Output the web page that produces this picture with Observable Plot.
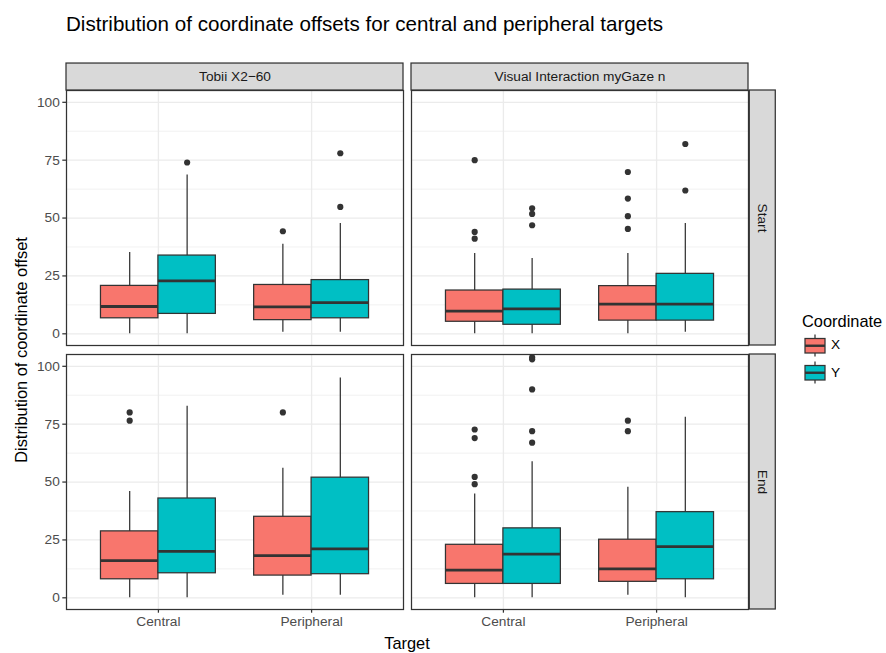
<!DOCTYPE html>
<html>
<head>
<meta charset="utf-8">
<script src="https://cdn.jsdelivr.net/npm/d3@7"></script>
<script src="https://cdn.jsdelivr.net/npm/@observablehq/plot@0.6"></script>
<style>
  html, body { margin: 0; padding: 0; background: #fff; }
  #wrap { position: relative; width: 886px; height: 653px; font-family: "Liberation Sans", Arial, Helvetica, sans-serif; color: #000; overflow: hidden; }
  #wrap svg { position: absolute; left: 0; top: 0; }
  .lbl { position: absolute; white-space: nowrap; line-height: 1; }
</style>
</head>
<body>
<div id="wrap"></div>
<script>
// ---------------- data ----------------
const devices = ["Tobii X2\u221260", "Visual Interaction myGaze n"];
const phases = ["Start", "End"];
const targets = ["Central", "Peripheral"];
const coords = ["X", "Y"];
const yTicks = [0, 25, 50, 75, 100];

// order: device > phase > target > coordinate
const whiskerLow  = [0, 0, 0.7, 0.7,   0, 0, 1.1, 1.1,    0, 0, 0, 0.7,   0, 0, 1.1, 0];
const q1          = [6.7, 8.6, 5.9, 6.7,   8.0, 10.6, 9.6, 10.2,   5.2, 3.9, 5.7, 5.7,   6.0, 6.0, 6.9, 8.0];
const median      = [11.8, 22.9, 11.6, 13.5,   16.1, 20.1, 18.2, 21.1,   9.8, 10.8, 12.8, 12.8,   12.0, 18.9, 12.5, 22.1];
const q3          = [20.7, 33.8, 21.1, 23.2,   28.7, 42.9, 35.0, 51.9,   18.7, 19.1, 20.6, 25.9,   22.9, 30.0, 25.1, 37.0];
const whiskerHigh = [35.1, 68.6, 38.7, 47.6,   45.9, 82.8, 56.0, 95.0,   34.7, 32.5, 34.7, 47.6,   44.8, 58.8, 47.8, 78.0];
const outliers = [
  [], [74.0], [44.3], [54.8, 78.0],
  [76.5, 80.1], [], [80.1], [],
  [41.1, 44.0, 75.0], [46.9, 51.8, 54.2], [45.3, 50.8, 58.4, 69.9], [61.9, 82.0],
  [49.1, 52.2, 69.0, 72.7], [67.0, 72.0, 90.0, 103.0, 103.9], [72.0, 76.5], []
];
const fillColors = ["#F8766D", "#00BFC4"];

// ---------------- build tables ----------------
const half = 0.1875; // half box width (dodge 0.75 / 2 boxes / 2)
const rows = [];
const outRows = [];
let i = 0;
for (const device of devices) for (const phase of phases) for (const target of targets) for (const coord of coords) {
  const pos = targets.indexOf(target) + 1 + (coord === "X" ? -half : half);
  rows.push({device, phase, target, coord, pos, lo: whiskerLow[i], q1: q1[i], med: median[i], q3: q3[i], hi: whiskerHigh[i]});
  for (const v of outliers[i]) outRows.push({device, phase, coord, pos, value: v});
  i++;
}

const ink = "#333333";
const grid = "#EBEBEB";
const lw = 1.25;
const fs = 13.7;
const yDom = [-5.05, 105.1];
const xDom = [0.4, 2.6];
const stripTop = 105.1 + 27 / 2.318;
const rsX1 = 2.6 + 1.3 / 153.3, rsX2 = rsX1 + 26 / 153.3;

const topStrips = devices.map(d => ({device: d, phase: "Start", label: d}));
const sideStrips = phases.map(p => ({device: devices[1], phase: p, label: p}));

const chart = Plot.plot({
  width: 886,
  height: 653,
  marginLeft: 65.5,
  marginRight: 138,
  marginTop: 90,
  marginBottom: 43,
  style: {fontFamily: "'Liberation Sans', Arial, Helvetica, sans-serif", fontSize: fs + "px", background: "transparent", overflow: "visible"},
  fx: {domain: devices, axis: null, paddingInner: 0.02317, paddingOuter: 0},
  fy: {domain: phases, axis: null, paddingInner: 0.03403, paddingOuter: 0},
  x: {domain: xDom, axis: null},
  y: {domain: yDom, axis: null},
  color: {domain: coords, range: fillColors},
  marks: [
    Plot.frame({fill: "white"}),
    Plot.ruleY([12.5, 37.5, 62.5, 87.5], {stroke: grid, strokeWidth: 0.7}),
    Plot.ruleY(yTicks, {stroke: grid, strokeWidth: 1.3}),
    Plot.ruleX([1, 2], {stroke: grid, strokeWidth: 1.3}),
    Plot.ruleX(rows, {fx: "device", fy: "phase", x: "pos", y1: "lo", y2: "hi", stroke: ink, strokeWidth: lw}),
    Plot.rect(rows, {fx: "device", fy: "phase", x1: d => d.pos - half, x2: d => d.pos + half, y1: "q1", y2: "q3", fill: "coord", stroke: ink, strokeWidth: lw}),
    Plot.ruleY(rows, {fx: "device", fy: "phase", y: "med", x1: d => d.pos - half, x2: d => d.pos + half, stroke: ink, strokeWidth: 2.8}),
    Plot.dot(outRows, {fx: "device", fy: "phase", x: "pos", y: "value", r: 3.1, fill: ink, stroke: "none"}),
    Plot.frame({stroke: ink, strokeWidth: lw}),
    // strips
    Plot.rect(topStrips, {fx: "device", fy: "phase", x1: xDom[0], x2: xDom[1], y1: yDom[1], y2: stripTop, fill: "#D9D9D9", stroke: ink, strokeWidth: lw}),
    Plot.text(topStrips, {fx: "device", fy: "phase", x: (xDom[0] + xDom[1]) / 2, y: (yDom[1] + stripTop) / 2, text: "label", fill: "#1A1A1A", fontSize: fs}),
    Plot.rect(sideStrips, {fx: "device", fy: "phase", x1: rsX1, x2: rsX2, y1: yDom[0], y2: yDom[1], fill: "#D9D9D9", stroke: ink, strokeWidth: lw}),
    Plot.text(sideStrips, {fx: "device", fy: "phase", x: (rsX1 + rsX2) / 2, y: (yDom[0] + yDom[1]) / 2, text: "label", rotate: 90, fill: "#1A1A1A", fontSize: fs}),
    // axes
    Plot.axisY({ticks: yTicks, tickSize: 3.7, tickPadding: 3, facetAnchor: "left", anchor: "left", label: null, stroke: ink, strokeWidth: lw, fill: "#4D4D4D", fontSize: fs}),
    Plot.axisX({ticks: [1, 2], tickFormat: d => targets[d - 1], tickSize: 3.7, tickPadding: 3.5, facetAnchor: "bottom", anchor: "bottom", label: null, stroke: ink, strokeWidth: lw, fill: "#4D4D4D", fontSize: fs})
  ]
});

const wrap = document.getElementById("wrap");
wrap.appendChild(chart);

function addLabel(text, css) {
  const d = document.createElement("div");
  d.className = "lbl";
  d.textContent = text;
  Object.assign(d.style, css);
  wrap.appendChild(d);
  return d;
}
addLabel("Distribution of coordinate offsets for central and peripheral targets", {left: "66px", top: "13.5px", fontSize: "20.6px"});
addLabel("Target", {left: "407px", top: "634.5px", fontSize: "16.4px", transform: "translateX(-50%)"});
addLabel("Distribution of coordinate offset", {left: "21px", top: "350px", fontSize: "16.4px", transform: "translate(-50%, -50%) rotate(-90deg)"});
addLabel("Coordinate", {left: "802px", top: "312.5px", fontSize: "16.4px"});

// legend keys
const color = chart.scale("color");
const NS = "http://www.w3.org/2000/svg";
coords.forEach((c, k) => {
  const top = 333.5 + k * 27.5;
  const svg = document.createElementNS(NS, "svg");
  svg.setAttribute("width", 24);
  svg.setAttribute("height", 24);
  svg.style.left = "803px";
  svg.style.top = top + "px";
  svg.innerHTML =
    `<line x1="12" x2="12" y1="0.5" y2="22.5" stroke="${ink}" stroke-width="${lw}"/>` +
    `<rect x="2" y="4.5" width="20" height="14.5" fill="${color.apply(c)}" stroke="${ink}" stroke-width="${lw}"/>` +
    `<line x1="2" x2="22" y1="11.75" y2="11.75" stroke="${ink}" stroke-width="2.4"/>`;
  wrap.appendChild(svg);
  addLabel(c, {left: "831px", top: (top + 11.75 - 6.9) + "px", fontSize: fs + "px"});
});
</script>
</body>
</html>
